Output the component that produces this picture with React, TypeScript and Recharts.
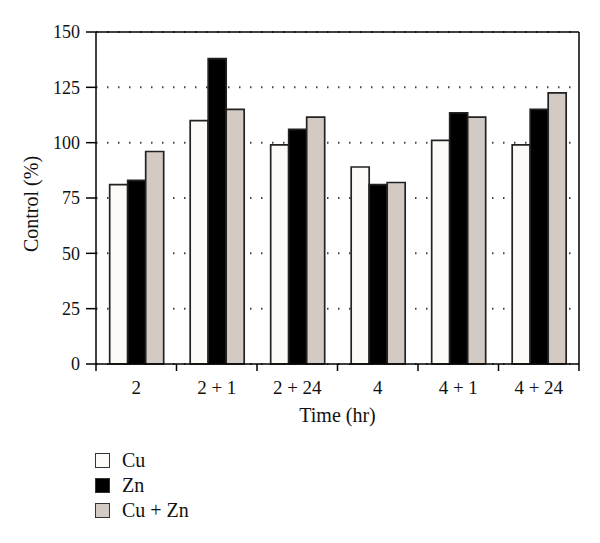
import React from "react";
import { BarChart, Bar, XAxis, YAxis, CartesianGrid } from "recharts";

// Time points (hr)
const CATEGORIES = ["2", "2 + 1", "2 + 24", "4", "4 + 1", "4 + 24"];

// Control (%) per treatment
const CU = [81, 110, 99, 89, 101, 99];
const ZN = [83, 138, 106, 81, 113.5, 115];
const CU_ZN = [96, 115, 111.5, 82, 111.5, 122.5];

const Y_TICKS = [0, 25, 50, 75, 100, 125, 150];

const SERIES = [
  { key: "cu", name: "Cu", color: "#fcfaf7" },
  { key: "zn", name: "Zn", color: "#000000" },
  { key: "cuzn", name: "Cu + Zn", color: "#d3cac4" },
];

const data = CATEGORIES.map((name, i) => ({
  name,
  cu: CU[i],
  zn: ZN[i],
  cuzn: CU_ZN[i],
}));

const FONT = "'Liberation Serif', 'Times New Roman', serif";
const WIDTH = 600;
const HEIGHT = 543;
// top/right axes are 1px wide frame lines
const MARGIN = { top: 31, right: 20, left: 0, bottom: 119 };
const Y_AXIS_W = 96;
const PLOT_W = WIDTH - MARGIN.left - MARGIN.right - 1 - Y_AXIS_W;
const BAND = PLOT_W / CATEGORIES.length;

// category ticks sit on the band edges, labels in the middle
function XTick(props: any) {
  const { x, y, payload, index } = props;
  const half = BAND / 2;
  return (
    <g>
      <line x1={x - half} x2={x - half} y1={y} y2={y + 7} stroke="#000" strokeWidth={1.5} />
      {index === CATEGORIES.length - 1 && (
        <line x1={x + half} x2={x + half} y1={y} y2={y + 7} stroke="#000" strokeWidth={1.5} />
      )}
      <text x={x} y={y + 30} textAnchor="middle" fontSize={19} fontFamily={FONT} fill="#111">
        {payload.value}
      </text>
    </g>
  );
}

function YTitle(props: any) {
  const { viewBox } = props;
  const cx = viewBox.x + 31;
  const cy = viewBox.y + viewBox.height / 2 + 6;
  return (
    <text
      x={cx}
      y={cy}
      transform={`rotate(-90, ${cx}, ${cy})`}
      textAnchor="middle"
      dominantBaseline="central"
      fontSize={20}
      fontFamily={FONT}
      fill="#111"
    >
      Control (%)
    </text>
  );
}

export default function App() {
  return (
    <div
      style={{
        position: "absolute",
        left: 0,
        top: 0,
        width: WIDTH,
        height: HEIGHT,
        background: "#fff",
      }}
    >
      <BarChart
        width={WIDTH}
        height={HEIGHT}
        data={data}
        margin={MARGIN}
        barGap={0}
        barCategoryGap="17%"
      >
        <CartesianGrid
          vertical={false}
          stroke="#444"
          strokeWidth={2}
          strokeDasharray="1.5 9.5"
        />
        <XAxis
          dataKey="name"
          height={60}
          tickSize={0}
          tickMargin={0}
          tickLine={false}
          tick={<XTick />}
          axisLine={{ stroke: "#000", strokeWidth: 1.5 }}
          label={{
            value: "Time (hr)",
            position: "insideBottom",
            offset: 2,
            fontSize: 20,
            fontFamily: FONT,
            fill: "#111",
          }}
        />
        <XAxis
          xAxisId="top"
          dataKey="name"
          orientation="top"
          height={1}
          tick={false}
          tickLine={false}
          axisLine={{ stroke: "#000", strokeWidth: 1.5 }}
        />
        <YAxis
          width={Y_AXIS_W}
          domain={[0, 150]}
          ticks={Y_TICKS}
          interval={0}
          tickSize={10}
          tickMargin={6}
          tickLine={{ stroke: "#000", strokeWidth: 1.5 }}
          axisLine={{ stroke: "#000", strokeWidth: 1.5 }}
          tick={{ fontSize: 18, fontFamily: FONT, fill: "#111" }}
          label={<YTitle />}
        />
        <YAxis
          yAxisId="right"
          orientation="right"
          width={1}
          domain={[0, 150]}
          tick={false}
          tickLine={false}
          axisLine={{ stroke: "#000", strokeWidth: 1.5 }}
        />
        {SERIES.map((s) => (
          <Bar
            key={s.key}
            dataKey={s.key}
            name={s.name}
            fill={s.color}
            stroke="#222"
            strokeWidth={1.7}
            isAnimationActive={false}
          />
        ))}
      </BarChart>
      <div
        style={{
          position: "absolute",
          left: 95,
          top: 448,
          fontFamily: FONT,
          fontSize: 20,
          color: "#111",
        }}
      >
        {SERIES.map((s) => (
          <div key={s.key} style={{ display: "flex", alignItems: "center", height: 25 }}>
            <span
              style={{
                display: "inline-block",
                width: 15,
                height: 15,
                boxSizing: "border-box",
                border: "1.5px solid #333",
                background: s.color,
                marginRight: 12,
              }}
            />
            <span>{s.name}</span>
          </div>
        ))}
      </div>
    </div>
  );
}
